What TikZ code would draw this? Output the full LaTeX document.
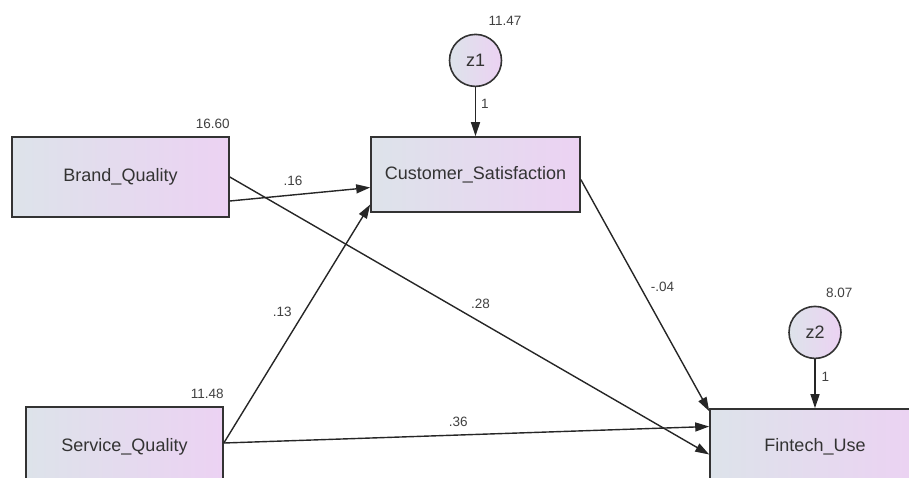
\documentclass[tikz,border=0pt]{standalone}
\usepackage{fontspec}
\setmainfont{Liberation Sans}
\usepackage{xcolor}
\usetikzlibrary{arrows.meta, positioning}
\definecolor{boxleft}{RGB}{221,227,234}
\definecolor{boxright}{RGB}{236,210,243}

\begin{document}
\begin{tikzpicture}[
    x=1pt, y=-1pt,
    node distance=49pt,
    varbox/.style={rectangle, draw=black!80, line width=1.6pt, left color=boxleft, right color=boxright, text=black!80, font=\fontsize{18}{20}\selectfont},
    errcirc/.style={circle, draw=black!80, line width=1.6pt, left color=boxleft, right color=boxright, minimum size=52pt, inner sep=0pt, text=black!80, font=\fontsize{18}{20}\selectfont},
    est/.style={inner sep=0pt, text=black!75, font=\fontsize{13.5}{14}\selectfont},
    arrow/.style={-{Triangle[length=14pt, width=9pt]}, line width=1.4pt, draw=black!85}
]
\useasboundingbox (0,0) rectangle (909,477);
\clip (0,0) rectangle (909,477);

% Observed variables
\node[varbox, minimum width=217pt, minimum height=80pt] (bq) at (120.5,177) {Brand\_Quality};
\node[varbox, minimum width=209pt, minimum height=75pt] (cs) at (475.5,174.5) {Customer\_Satisfaction};
\node[varbox, minimum width=197pt, minimum height=80pt] (sq) at (124.5,447) {Service\_Quality};
\node[varbox, minimum width=210pt, minimum height=75pt] (fu) at (815,446.5) {Fintech\_Use};

% Error terms
\node[errcirc, above=of cs] (z1) {z1};
\node[errcirc, above=of fu] (z2) {z2};

% Variances
\node[est, anchor=south east] (bqvar) at ([yshift=7pt]bq.north east) {16.60};
\node[est, anchor=south east] (sqvar) at ([yshift=7pt]sq.north east) {11.48};
\node[est, anchor=south west] (z1var) at ([xshift=13pt, yshift=8pt]z1.north) {11.47};
\node[est, anchor=south west] (z2var) at ([xshift=11pt, yshift=8pt]z2.north) {8.07};

% Paths
\draw[arrow] (z1) -- node[est, pos=0.35, right=5pt] (w1) {1} (cs);
\draw[arrow] (z2) -- node[est, pos=0.35, right=6pt] (w2) {1} (fu);
\draw[arrow] ([yshift=-24pt]bq.east) -- node[est, pos=0.45, above=9pt] (p16) {.16} ([yshift=-13pt]cs.west);
\draw[arrow] (bq.east) -- node[est, pos=0.523, above=13pt] (p28) {.28} ([yshift=-8pt]fu.west);
\draw[arrow] ([yshift=4pt]sq.east) -- node[est, pos=0.55, left=12pt] (p13) {.13} ([yshift=-30pt]cs.west);
\draw[arrow] ([yshift=4pt]sq.east) -- node[est, pos=0.483, above=8pt] (p36) {.36} ([yshift=20pt]fu.west);
\draw[arrow] ([yshift=-5pt]cs.east) -- node[est, pos=0.463, right=10pt] (p04) {-.04} ([yshift=-3pt]fu.north west);

\end{tikzpicture}
\end{document}
